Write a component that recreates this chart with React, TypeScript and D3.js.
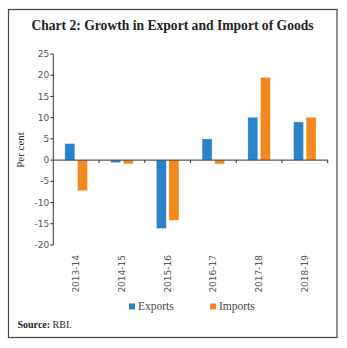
import React from "react";
import * as d3 from "d3";

const categories = ["2013-14", "2014-15", "2015-16", "2016-17", "2017-18", "2018-19"];
const exportsVals = [3.9, -0.6, -16.1, 5.0, 10.1, 9.0];
const importsVals = [-7.2, -0.9, -14.2, -0.9, 19.5, 10.1];
const yTicks = [25, 20, 15, 10, 5, 0, -5, -10, -15, -20];
const seriesNames = ["Exports", "Imports"];
const colors = ["#2a82c8", "#f5871f"];

export default function App() {
  const W = 347, H = 348;
  const x0 = 53.3, x1 = 327.7;
  const y = d3.scaleLinear().domain([-20, 25]).range([245, 54]);
  const x = d3.scaleBand().domain(categories).range([x0, x1]).paddingInner(0).paddingOuter(0);
  const barW = 10, gap = 2.6;
  const series = [exportsVals, importsVals];
  const sans = "'DejaVu Sans', Verdana, sans-serif";
  const serif = "'Liberation Serif', 'DejaVu Serif', serif";
  return (
    <svg width={W} height={H} style={{ position: "absolute", left: 0, top: 0 }}>
      <rect x={8.5} y={9.5} width={328.5} height={328} fill="white" stroke="#444" strokeWidth={1.2} />
      <text x={172.5} y={30} textAnchor="middle" fontFamily={serif} fontWeight="bold" fontSize={13.6} fill="#222">
        Chart 2: Growth in Export and Import of Goods
      </text>
      {/* y axis */}
      <line x1={x0} x2={x0} y1={y(25)} y2={y(-20)} stroke="#333" strokeWidth={1} />
      {yTicks.map((t) => (
        <g key={t}>
          <line x1={x0 - 3} x2={x0} y1={y(t)} y2={y(t)} stroke="#333" />
          <text x={x0 - 4} y={y(t)} dy="0.35em" textAnchor="end" fontFamily={sans} fontSize={9} fill="#555">
            {t}
          </text>
        </g>
      ))}
      <text transform={`translate(24,150) rotate(-90)`} textAnchor="middle" fontFamily={serif} fontSize={11} fill="#333">
        Per cent
      </text>
      {/* bars */}
      {categories.map((c, i) => {
        const cx = (x(c) as number) + x.bandwidth() / 2;
        return series.map((s, k) => {
          const v = s[i];
          const bx = k === 0 ? cx - gap / 2 - barW : cx + gap / 2;
          return (
            <rect key={c + k} x={bx} y={Math.min(y(v), y(0))} width={barW} height={Math.abs(y(v) - y(0))}
              fill={colors[k]} stroke="#ffffff" strokeOpacity={0.6} strokeWidth={0.6} />
          );
        });
      })}
      {/* x axis */}
      <line x1={x0} x2={x1} y1={y(0)} y2={y(0)} stroke="#333" strokeWidth={1} />
      {categories.map((c) => (
        <line key={"t" + c} x1={(x(c) as number) + x.bandwidth()} x2={(x(c) as number) + x.bandwidth()} y1={y(0)} y2={y(0) + 3} stroke="#333" />
      ))}
      {categories.map((c) => {
        const cx = (x(c) as number) + x.bandwidth() / 2 + 3;
        return (
          <text key={"l" + c} transform={`translate(${cx},255) rotate(-90)`} textAnchor="end" fontFamily={sans} fontSize={9} fill="#555">
            {c}
          </text>
        );
      })}
      {/* legend */}
      {seriesNames.map((n, k) => {
        const lx = k === 0 ? 129 : 210;
        return (
          <g key={n}>
            <rect x={lx} y={303.5} width={6} height={6} fill={colors[k]} />
            <text x={lx + 9} y={310} fontFamily={serif} fontSize={11.5} fill="#444">{n}</text>
          </g>
        );
      })}
      <text x={17.5} y={328} fontFamily={serif} fontSize={10} fill="#222">
        <tspan fontWeight="bold">Source:</tspan> RBI.
      </text>
    </svg>
  );
}
